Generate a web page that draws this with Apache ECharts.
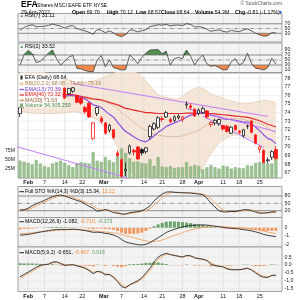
<!DOCTYPE html>
<html>
<head>
<meta charset="utf-8">
<script src="https://cdn.jsdelivr.net/npm/echarts@6.0.0/dist/echarts.min.js"></script>
<style>
html,body{margin:0;padding:0;background:#ffffff;}
#chart{width:300px;height:300px;}
</style>
</head>
<body>
<div id="chart"></div>
<script>
// ---------------- data ----------------
const dates = ['Jan 28','Jan 31','Feb 1','Feb 2','Feb 3','Feb 4','Feb 7','Feb 8','Feb 9','Feb 10','Feb 11','Feb 14','Feb 15','Feb 16','Feb 17','Feb 18','Feb 22','Feb 23','Feb 24','Feb 25','Feb 28','Mar 1','Mar 2','Mar 3','Mar 4','Mar 7','Mar 8','Mar 9','Mar 10','Mar 11','Mar 14','Mar 15','Mar 16','Mar 17','Mar 18','Mar 21','Mar 22','Mar 23','Mar 24','Mar 25','Mar 28','Mar 29','Mar 30','Mar 31','Apr 1','Apr 4','Apr 5','Apr 6','Apr 7','Apr 8','Apr 11','Apr 12','Apr 13','Apr 14','Apr 18','Apr 19','Apr 20','Apr 21','Apr 22','Apr 25','Apr 26','Apr 27','Apr 28','Apr 29'];

const open  = [73.9,74.7,75.9,76.6,76.1,75.3,75.9,75.6,77.0,76.6, 76.8,76.85,76.2,76.5,76.0,75.7,74.6,75.1,71.0,73.9, 73.35,72.8,71.95,72.0,69.3,68.5,67.2,69.3,69.6,70.0, 69.7,69.45,71.2,72.1,72.3,73.3,73.5,73.2,73.1,73.4, 73.2,74.9,74.8,74.4,73.9,74.0,74.2,72.6,72.8,72.7, 72.5,72.4,71.6,72.5,71.85,71.3,72.4,73.0,71.4,69.7, 69.6,68.4,68.8,69.70];
const high  = [74.8,75.6,76.3,76.9,76.3,75.8,76.1,76.3,77.5,77.3, 77.0,76.95,76.9,77.0,76.1,75.8,74.8,75.2,72.9,74.7, 73.6,72.9,72.7,72.1,69.6,68.7,68.2,70.3,69.8,70.1, 69.9,70.0,72.6,72.9,73.6,73.6,74.2,73.4,73.7,73.8, 73.6,75.3,75.1,74.5,74.5,74.7,74.3,73.0,73.3,73.3, 72.6,72.6,72.4,72.6,71.95,72.1,72.6,73.2,71.5,70.2, 69.7,68.8,69.6,70.12];
const low   = [73.5,74.5,75.6,76.3,75.3,74.9,75.5,75.5,76.9,76.3, 75.8,75.6,76.1,76.3,75.1,74.9,73.9,73.4,70.8,73.6, 72.7,71.4,71.7,70.9,68.8,66.4,66.6,69.1,69.0,68.5, 69.0,69.2,70.9,71.9,72.1,72.9,73.4,72.8,72.9,73.2, 72.9,74.5,74.3,73.5,73.7,73.9,73.3,72.3,72.5,72.5, 71.9,71.7,71.5,71.9,71.5,71.1,72.1,71.6,70.3,69.3, 68.1,68.1,68.5,68.57];
const close = [74.6,75.5,76.2,76.7,75.5,75.5,75.7,76.2,77.4,76.8, 75.9,75.7,76.8,76.9,75.2,75.1,74.1,73.5,72.8,74.6, 72.95,71.6,72.5,71.1,69.0,66.6,67.4,70.1,69.4,68.6, 69.3,69.9,72.4,72.7,73.4,73.2,74.0,72.95,73.5,73.6, 73.5,75.0,74.6,73.6,74.3,74.5,73.5,72.85,73.1,73.2, 72.1,71.8,72.3,72.0,71.7,72.0,72.45,71.7,70.45,70.0, 68.2,68.5,69.45,68.64];
const volumeM = [48,45,42,38,50,40,33,30,40,44, 48,42,35,30,40,44,42,40,72,48, 45,58,50,44,60,82,70,55,45,46, 42,40,52,34,58,32,30,33,28,30, 30,44,32,36,33,24,30,36,30,26, 34,32,26,30,28,27,35,34,42,44, 46,40,40,54.3];

const ema13 = [75.3,75.3,75.4,75.6,75.6,75.6,75.6,75.7,75.9,76.0, 76.0,75.9,76.0,76.0,75.9,75.8,75.6,75.3,74.9,74.8, 74.6,74.2,73.8,73.5,72.9,72.3,71.8,71.5,71.2,70.9, 70.7,70.6,70.9,71.3,71.7,72.0,72.4,72.6,72.8,73.0, 73.2,73.5,73.7,73.8,73.9,74.0,73.9,73.7,73.6,73.5, 73.3,73.2,73.2,73.1,73.0,72.9,72.9,72.7,72.3,71.9, 71.4,71.0,70.8,70.39];
const ema40 = [76.3,76.3,76.3,76.3,76.3,76.2,76.2,76.2,76.2,76.2, 76.2,76.1,76.1,76.1,76.0,75.9,75.8,75.7,75.6,75.55, 75.5,75.35,75.2,75.05,74.9,74.7,74.5,74.4,74.3,74.2, 74.1,74.0,74.0,73.95,73.9,73.9,73.9,73.9,73.9,73.9, 73.9,73.95,73.95,73.95,73.95,73.95,73.9,73.9,73.85,73.8, 73.75,73.7,73.65,73.6,73.55,73.5,73.45,73.35,73.2,73.05, 72.85,72.65,72.5,72.32];
const ma20  = [76.8,76.7,76.6,76.5,76.4,76.3,76.2,76.2,76.15,76.1, 76.0,75.95,75.9,75.85,75.8,75.75,75.7,75.65,75.55,75.5, 75.4,75.25,75.05,74.8,74.47,74.0,73.6,73.3,72.9,72.5, 72.2,71.9,71.7,71.5,71.35,71.3,71.25,71.2,71.2,71.21, 71.3,71.45,71.6,71.75,71.9,72.3,72.6,72.8,73.0,73.16, 73.25,73.3,73.3,73.3,73.27,73.2,73.1,73.0,72.9,72.73, 72.5,72.2,71.9,71.63];
const bbUpper = [79.4,79.3,79.2,79.1,79.0,78.85,78.7,78.55,78.4,78.3, 78.1,77.95,77.8,77.65,77.5,77.5,77.55,77.6,77.7,77.8, 78.0,78.2,78.4,78.6,78.8,79.0,79.0,78.9,78.8,78.6, 78.2,77.7,77.1,76.6,76.1,75.9,75.8,75.7,75.6,75.6, 75.9,76.3,76.6,76.8,76.96,76.8,76.5,76.2,76.0,75.86, 75.7,75.5,75.35,75.2,75.12,75.1,75.1,75.15,75.25,75.33, 75.4,75.4,75.3,75.19];
const bbLower = [74.2,74.1,74.0,73.95,73.9,73.9,73.9,73.9,73.9,73.9, 73.95,74.0,74.05,74.1,74.1,73.95,73.8,73.6,73.4,73.2, 72.8,72.2,71.6,70.9,70.1,69.0,68.0,67.3,66.8,66.4, 66.3,66.3,66.4,66.5,66.6,66.7,66.7,66.75,66.8,66.8, 66.7,66.6,66.6,66.7,66.84,67.6,68.4,69.2,69.9,70.46, 70.8,71.1,71.3,71.4,71.43,71.3,71.2,71.0,70.6,70.13, 69.6,69.1,68.6,68.08];

const rsi7 = [42,55,62,66,58,58,60,63,69,64, 60,52,60,62,50,45,40,34,26,46, 42,33,40,32,21,16,24,44,42,36, 41,45,58,62,66,64,68,61,64,65, 62,71,67,57,58,55,47,38,42,44, 38,35,42,39,37,44,48,40,30,24, 18,20,33,31.11];
const rsi2 = [30,72,88,75,40,45,60,78,90,55, 30,45,62,68,17,15,8,4,3,50, 68,23,50,20,15,10,12,70,55,35, 60,78,90,91,92,75,85,30,55,60, 55,90,65,30,55,70,35,25,28,20, 10,12,43,55,30,40,77,37,17,15, 10,20,57,33.52];

const stoK = [22,24,30,40,48,55,62,70,77,82, 84,80,74,68,62,57,48,38,30,18, 20,25,20,12,10,6,6,12,14,16, 20,28,40,60,75,88,96,97,95,94, 93,93,92,90,88,85,72,50,35,20, 15,15,17,16,20,24,24,20,14,10, 10,12,15,15.34];
const stoD = [26,24,25,31,39,48,55,62,70,76, 81,82,79,74,68,62,56,48,39,29, 23,21,22,19,14,9,7,8,11,14, 17,21,29,43,58,74,86,94,96,95, 94,93,93,92,90,88,82,69,52,35, 23,17,16,16,18,20,23,23,19,15, 11,11,12,12.12];

const macdA = [-0.9,-0.86,-0.8,-0.72,-0.62,-0.52,-0.43,-0.35,-0.27,-0.22, -0.2,-0.21,-0.2,-0.19,-0.21,-0.27,-0.35,-0.44,-0.56,-0.54, -0.58,-0.68,-0.75,-0.88,-1.08,-1.42,-1.72,-1.85,-1.95,-2.05, -2.08,-2.0,-1.8,-1.5,-1.2,-0.9,-0.58,-0.36,-0.2,-0.05, 0.08,0.2,0.27,0.3,0.33,0.34,0.32,0.25,0.18,0.12, 0.04,-0.03,-0.07,-0.11,-0.15,-0.24,-0.3,-0.38,-0.5,-0.64, -0.8,-0.93,-1.0,-1.082];
const signalA = [-0.7,-0.7,-0.66,-0.62,-0.56,-0.5,-0.46,-0.42,-0.37,-0.32, -0.28,-0.27,-0.25,-0.23,-0.23,-0.25,-0.29,-0.33,-0.39,-0.43, -0.47,-0.52,-0.58,-0.64,-0.68,-0.82,-0.97,-1.07,-1.2,-1.35, -1.48,-1.6,-1.68,-1.68,-1.6,-1.48,-1.3,-1.12,-0.94,-0.77, -0.6,-0.42,-0.28,-0.16,-0.06,0.02,0.08,0.11,0.13,0.13, 0.11,0.08,0.05,0.02,-0.01,-0.06,-0.11,-0.16,-0.23,-0.31, -0.41,-0.53,-0.63,-0.71];
const histA = [-0.2,-0.16,-0.14,-0.1,-0.06,-0.02,0.03,0.07,0.1,0.1, 0.08,0.06,0.05,0.04,0.02,-0.02,-0.06,-0.11,-0.17,-0.11, -0.11,-0.16,-0.17,-0.24,-0.4,-0.6,-0.75,-0.78,-0.75,-0.7, -0.6,-0.4,-0.12,0.18,0.4,0.58,0.72,0.76,0.74,0.72, 0.68,0.62,0.55,0.46,0.39,0.32,0.24,0.14,0.05,-0.01, -0.07,-0.11,-0.12,-0.13,-0.14,-0.18,-0.19,-0.22,-0.27,-0.33, -0.39,-0.4,-0.37,-0.373];

const macdB = [-0.74,-0.6,-0.45,-0.3,-0.15,-0.02,0.03,0.05,0.18,0.2, 0.08,-0.02,0.0,0.02,-0.05,-0.12,-0.2,-0.35,-0.55,-0.4, -0.45,-0.62,-0.6,-0.78,-1.05,-1.37,-1.45,-1.25,-1.12,-1.0, -0.8,-0.5,-0.2,0.2,0.5,0.65,0.74,0.66,0.6,0.55, 0.5,0.6,0.58,0.45,0.4,0.36,0.28,0.05,-0.05,-0.08, -0.12,-0.25,-0.3,-0.3,-0.3,-0.25,-0.2,-0.32,-0.5,-0.68, -0.78,-0.78,-0.65,-0.651];
const signalB = [-0.85,-0.7,-0.55,-0.4,-0.24,-0.09,0.01,0.04,0.13,0.18, 0.12,0.03,0.0,0.01,-0.03,-0.09,-0.16,-0.29,-0.46,-0.42, -0.44,-0.56,-0.59,-0.72,-0.94,-1.23,-1.38,-1.29,-1.18,-1.06, -0.89,-0.63,-0.34,0.02,0.34,0.55,0.68,0.67,0.62,0.57, 0.52,0.57,0.58,0.49,0.43,0.38,0.31,0.14,0.01,-0.06, -0.1,-0.2,-0.27,-0.29,-0.3,-0.27,-0.22,-0.29,-0.43,-0.6, -0.72,-0.76,-0.69,-0.667];
const histB = [0.11,0.1,0.1,0.1,0.09,0.07,0.02,0.01,0.05,0.02, -0.04,-0.05,0.0,0.01,-0.02,-0.03,-0.04,-0.06,-0.09,0.02, -0.01,-0.06,-0.01,-0.06,-0.11,-0.14,-0.07,0.04,0.06,0.06, 0.09,0.13,0.14,0.18,0.16,0.1,0.06,-0.01,-0.02,-0.02, -0.02,0.03,0.0,-0.04,-0.03,-0.02,-0.03,-0.09,-0.06,-0.02, -0.02,-0.05,-0.03,-0.01,0.0,0.02,0.02,-0.03,-0.07,-0.08, -0.06,-0.02,0.04,0.016];

// trend lines drawn on the chart: [day index, price]
const trendTop   = [[13, 77.39], [61, 73.56]];
const trendMid   = [[41, 74.5], [63, 71.8]];
const trendLow   = [[45, 73.6], [60, 69.95]];
const trendLeft  = [[-4.9, 70.58], [26.5, 66.38]];

// axis ticks
const tickLabels = ['Feb','7','14','22','Mar','7','14','21','28','Apr','11','18','25'];
const tickPos    = [2, 6, 11, 15.3, 20.6, 25, 30.5, 35, 40, 44, 50, 54, 59];
const monthLabels = ['Feb','Mar','Apr'];
const priceTicks = [67,68,69,70,71,72,73,74,75,76,77,78];
const volTicksM  = [25,50,75];
const rsiTicks   = [10,30,50,70,90];
const stoTicks   = [20,50,80];
const macdATicks = [-2,-1,0];
const macdBTicks = [-1.5,-1.0,-0.5,0,0.5];

// ---------------- chart ----------------
const FONT = 'Liberation Sans';
const RED = '#ff1414', BLACK = '#151515';
const GREEN = '#4f8f4f', ORANGE = '#f08a4b';
const cats = dates.concat(['']);
const XMIN = -0.5, XMAX = cats.length - 0.5;
const pairs = a => a.map((v, i) => [i, v]);

const panelDefs = [
  {top: 13.5, height: 28.5, bg: '#f3f3f3', min: -6.75, max: 113.5},
  {top: 43,   height: 29.5, bg: '#f3f3f3', min: 0, max: 118},
  {top: 73,   height: 105,  bg: '#ffffff', min: 66.38, max: 78.62},
  {top: 186.5,height: 31,   bg: '#f3f3f3', min: -7.8, max: 118.8},
  {top: 217.5,height: 29.5, bg: '#f3f3f3', min: -2.325, max: 1.229},
  {top: 247,  height: 44.5, bg: '#f3f3f3', min: -1.677, max: 1.139}
];
const grid = panelDefs.map(p => ({left: 18, right: 18, top: p.top, height: p.height, show: true,
  backgroundColor: p.bg, borderColor: '#8c8c8c', borderWidth: 0.8}));

const catAxis = gi => ({type: 'category', gridIndex: gi, data: cats, boundaryGap: true, show: false});
const valAxisX = (gi, labels) => ({
  type: 'value', gridIndex: gi, min: XMIN, max: XMAX, show: labels, position: 'bottom',
  axisLine: {show: false}, axisTick: {show: false}, splitLine: {show: false},
  axisLabel: labels ? {
    customValues: tickPos, margin: 2.5, fontSize: 5.4, fontFamily: FONT, color: '#111',
    formatter: v => { const k = tickPos.indexOf(v); const t = k >= 0 ? tickLabels[k] : '';
      return monthLabels.indexOf(t) >= 0 ? '{b|' + t + '}' : t; },
    rich: {b: {fontWeight: 'bold', fontSize: 5.4, fontFamily: FONT, color: '#111'}}
  } : {show: false}
});
const xAxis = [0,1,2,3,4,5].map(catAxis).concat([0,1,2,3,4,5].map(gi => valAxisX(gi, gi === 2 || gi === 5)));

const yAx = (gi, vals, fmt, pos, min, max) => ({
  type: 'value', gridIndex: gi, min: min != null ? min : panelDefs[gi].min, max: max != null ? max : panelDefs[gi].max,
  position: pos || 'right',
  axisLine: {show: false}, axisTick: {show: false}, splitLine: {show: false},
  axisLabel: {customValues: vals, margin: pos === 'left' ? 3 : 2.5, fontSize: 5.2, fontFamily: FONT, color: '#222', formatter: fmt}
});
const yAxis = [
  yAx(0, rsiTicks),
  yAx(1, rsiTicks),
  yAx(2, priceTicks),
  yAx(2, volTicksM, v => Math.round(v) + 'M', 'left', 0, 291.7),
  yAx(3, stoTicks),
  yAx(4, macdATicks),
  yAx(5, macdBTicks, v => v.toFixed(1))
];

const series = [];
const add = s => { series.push(Object.assign({animation: false, silent: true}, s)); return series.length - 1; };
const lineS = (xi, yi, data, color, width, z, extra) => add(Object.assign({type: 'line', xAxisIndex: xi, yAxisIndex: yi,
  data: data, symbol: 'none', lineStyle: {color: color, width: width}, z: z}, extra || {}));

// reference lines (gridlines, 70/30 levels ...) drawn as broken line series
const GAP = ['-', '-'];
function vGridLines(gi, yi) {
  const p = panelDefs[gi]; const d = [];
  tickPos.forEach(t => { d.push([t, p.min], [t, p.max], GAP); });
  add({type: 'line', xAxisIndex: 6 + gi, yAxisIndex: yi, data: d, symbol: 'none', connectNulls: false,
    lineStyle: {color: '#d6d6d6', width: 0.6}, z: 1});
}
function hLines(gi, yi, levels, style, z) {
  const d = [];
  levels.forEach(v => { d.push([XMIN, v], [XMAX, v], GAP); });
  add({type: 'line', xAxisIndex: 6 + gi, yAxisIndex: yi, data: d, symbol: 'none', connectNulls: false, lineStyle: style, z: z || 1});
}
const SOLID = {color: '#6e6e6e', width: 0.8};
const DASHDOT = {color: '#6e6e6e', width: 0.7, type: [4, 1.5, 1, 1.5]};
const FAINT = {color: '#e4e4e4', width: 0.6};

// shaded area between an oscillator and a level (the oscillator clamped at the level, filled to the level)
function levelFill(arr, level, above, xi, yi, color) {
  const pts = [];
  arr.forEach((v, i) => {
    if (i > 0) {
      const a = arr[i - 1];
      if ((a - level) * (v - level) < 0) pts.push([i - 1 + (level - a) / (v - a), level]);
    }
    pts.push([i, v]);
  });
  add({type: 'line', xAxisIndex: xi, yAxisIndex: yi,
    data: pts.map(p => [p[0], above ? Math.max(p[1], level) : Math.min(p[1], level)]),
    symbol: 'none', lineStyle: {opacity: 0}, areaStyle: {color: color, opacity: 1, origin: level}, z: 2});
}

// RSI panels
function rsiPanel(arr, gi, yi) {
  const xi = 6 + gi;
  vGridLines(gi, yi);
  levelFill(arr, 70, true, xi, yi, GREEN);
  levelFill(arr, 30, false, xi, yi, ORANGE);
  hLines(gi, yi, [70, 30], SOLID, 2);
  hLines(gi, yi, [50], DASHDOT, 2);
  lineS(xi, yi, pairs(arr), '#3a3a3a', 0.8, 3);
}
rsiPanel(rsi7, 0, 0);
rsiPanel(rsi2, 1, 1);

// main panel : Bollinger band shading stacked on the category axis
add({type: 'line', xAxisIndex: 2, yAxisIndex: 2, data: bbLower, stack: 'bb', symbol: 'none',
  lineStyle: {opacity: 0}, z: 1});
add({type: 'line', xAxisIndex: 2, yAxisIndex: 2, data: bbUpper.map((u, i) => +(u - bbLower[i]).toFixed(3)), stack: 'bb', symbol: 'none',
  lineStyle: {opacity: 0}, areaStyle: {color: '#f5e2d0', opacity: 0.85}, z: 1});
hLines(2, 2, priceTicks, FAINT, 1);
vGridLines(2, 2);
lineS(8, 2, pairs(bbUpper), '#e2c2a2', 0.6, 2);
lineS(8, 2, pairs(bbLower), '#e2c2a2', 0.6, 2);
add({type: 'bar', xAxisIndex: 2, yAxisIndex: 3, data: volumeM, barWidth: 3,
  itemStyle: {color: 'rgba(140,185,128,0.85)', borderColor: '#78a46c', borderWidth: 0.4}, z: 3});
lineS(8, 2, pairs(ma20), '#b8864f', 0.9, 4, {lineStyle: {color: '#b8864f', width: 0.9, type: [1, 1.2]}});
lineS(8, 2, pairs(ema40), '#e8282a', 1.2, 4);
lineS(8, 2, pairs(ema13), '#8d4ee0', 1.2, 4);
lineS(8, 2, trendTop, '#c27dfa', 1, 4);
lineS(8, 2, trendMid, '#c27dfa', 1, 4);
lineS(8, 2, trendLow, '#c27dfa', 1, 4);
lineS(8, 2, trendLeft, '#c27dfa', 1, 4, {clip: false});
add({type: 'candlestick', xAxisIndex: 2, yAxisIndex: 2, barWidth: 3, z: 5,
  data: open.map((o, i) => {
    const c = close[i];
    const col = (i > 0 && c < close[i - 1]) ? RED : BLACK;
    const fill = c >= o ? '#ffffff' : col;
    return {value: [o, c, low[i], high[i]],
      itemStyle: {color: fill, color0: fill, borderColor: col, borderColor0: col, borderWidth: 0.8}};
  })});

// Full STO
vGridLines(3, 4);
hLines(3, 4, [80, 20], SOLID, 2);
hLines(3, 4, [50], DASHDOT, 2);
lineS(9, 4, pairs(stoD), '#f3a35c', 0.9, 3);
lineS(9, 4, pairs(stoK), '#2a2a2a', 0.9, 4);

// MACD panels
function macdPanel(m, s, h, gi, yi, ticks) {
  vGridLines(gi, yi);
  hLines(gi, yi, ticks, FAINT, 1);
  add({type: 'bar', xAxisIndex: gi, yAxisIndex: yi, barWidth: 3, z: 2,
    data: h.map(v => ({value: v, itemStyle: {color: v >= 0 ? 'rgba(80,148,80,0.85)' : 'rgba(243,135,70,0.85)'}}))});
  lineS(6 + gi, yi, pairs(s), '#f3a35c', 0.9, 3);
  lineS(6 + gi, yi, pairs(m), '#2a2a2a', 0.9, 4);
}
macdPanel(macdA, signalA, histA, 4, 5, macdATicks);
macdPanel(macdB, signalB, histB, 5, 6, macdBTicks);

// ---------------- texts ----------------
const T = (x, y, text, o) => ({type: 'text', x: x, y: y, z: 11, silent: true,
  style: Object.assign({text: text, fill: '#000', fontSize: 5.3, fontFamily: FONT, verticalAlign: 'middle', align: 'left'}, o || {})});
const richB = {b: {fontWeight: 'bold', fontSize: 5.2, fontFamily: FONT, fill: '#000'}, n: {fontSize: 5.2, fontFamily: FONT, fill: '#000'}};
const RT = (x, y, text) => T(x, y, text, {rich: richB, fontSize: 5.2});
const seg = (x1, y, x2, color, w) => ({type: 'line', z: 11, silent: true, shape: {x1: x1, y1: y, x2: x2, y2: y}, style: {stroke: color, lineWidth: w || 1}});
const richCol = {n: {fontSize: 5.2, fontFamily: FONT, fill: '#000'}, o: {fontSize: 5.2, fontFamily: FONT, fill: '#f08a30'}, g: {fontSize: 5.2, fontFamily: FONT, fill: '#5a9a5a'}};

const graphic = [
  {type: 'rect', z: 10, silent: true, shape: {x: 18.5, y: 73.5, width: 44, height: 34}, style: {fill: 'rgba(255,255,255,0.9)'}},
  T(21, 5, 'EFA', {fontSize: 8.5, fontWeight: 'bold'}),
  T(36, 5.5, 'iShares MSCI EAFE ETF NYSE', {fontSize: 5}),
  T(282, 3.5, '© StockCharts.com', {fontSize: 4.8, align: 'right', fill: '#555'}),
  T(21, 12.5, '29-Apr-2022', {fontSize: 5.2}),
  RT(72, 12.5, '{b|Open} {n|69.70}'),
  RT(107, 12.5, '{b|High} {n|70.12}'),
  RT(136, 12.5, '{b|Low} {n|68.57}'),
  RT(161, 12.5, '{b|Close} {n|68.64}'),
  RT(195, 12.5, '{b|Volume} {n|54.3M}'),
  RT(235, 12.5, '{b|Chg} {n|-0.81 (-1.17%)}'),
  T(278, 12.5, '▼', {fontSize: 5, fill: '#1f4fd0'}),

  T(19.5, 16, '▲', {fontSize: 4.5, fill: GREEN}),
  T(25, 16, 'RSI(7) 31.11'),
  T(19.5, 47, '▲', {fontSize: 4.5, fill: GREEN}),
  T(25, 47, 'RSI(2) 33.52'),

  {type: 'rect', z: 11, silent: true, shape: {x: 20.5, y: 75.5, width: 2, height: 4}, style: {fill: '#222'}},
  T(25, 77.7, 'EFA (Daily) 68.64'),
  {type: 'rect', z: 11, silent: true, shape: {x: 19.5, y: 82.3, width: 4, height: 3}, style: {fill: '#f0d2b4'}},
  T(25, 84, 'BB(20,2.0) 68.08 - 71.63 - 75.19', {fill: '#b08458'}),
  seg(19.5, 89.5, 24, '#8d4ee0', 1.2),
  T(25, 89.5, 'EMA(13) 70.39', {fill: '#7a3fd0'}),
  seg(19.5, 95, 24, '#e8282a', 1.2),
  T(25, 95, 'EMA(40) 72.32', {fill: '#e02020'}),
  seg(19.5, 100.3, 24, '#b8864f', 1),
  T(25, 100.3, 'MA(20) 71.63', {fill: '#9a6a3a'}),
  {type: 'rect', z: 11, silent: true, shape: {x: 20, y: 103.5, width: 3, height: 3.5}, style: {fill: '#7fae74'}},
  T(25, 105.5, 'Volume 54,305,250', {fill: '#3f7f3f'}),

  seg(19.5, 191.7, 24, '#222', 1),
  T(25, 191.7, '{n|Full STO %K(14,3) %D(3) 15.34,} {o|12.12}', {rich: richCol}),
  seg(19.5, 221.7, 24, '#222', 1),
  T(25, 221.7, '{n|MACD(12,26,9) -1.082,} {o|-0.710,} {g|-0.373}', {rich: richCol}),
  seg(19.5, 252.7, 24, '#222', 1),
  T(25, 252.7, '{n|MACD(5,9,2) -0.651,} {o|-0.667,} {g|0.016}', {rich: richCol})
];

const chart = echarts.init(document.getElementById('chart'), null, {renderer: 'canvas'});
chart.setOption({
  animation: false,
  backgroundColor: '#ffffff',
  textStyle: {fontFamily: FONT},
  grid: grid,
  xAxis: xAxis,
  yAxis: yAxis,
  series: series,
  graphic: graphic
});
</script>
</body>
</html>
